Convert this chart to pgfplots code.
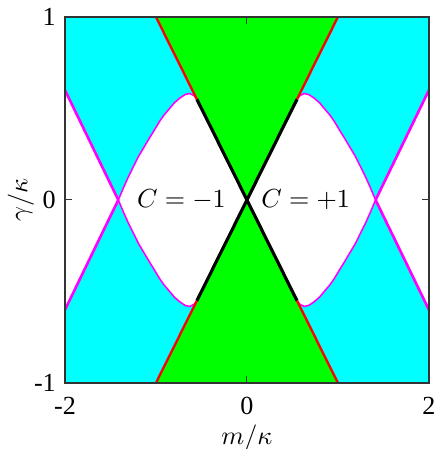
\documentclass[border=0pt]{standalone}
\usepackage{fontspec}
\setmainfont{Liberation Serif}
\usepackage{pgfplots}
\usepackage{pgfplotstable}
\pgfplotsset{compat=1.18}
\usetikzlibrary{calc}

\definecolor{cyanf}{RGB}{0,255,255}
\definecolor{greenf}{RGB}{0,255,0}
\definecolor{redl}{RGB}{255,0,0}
\definecolor{magl}{RGB}{255,0,255}

% upper-right lobe of the exceptional line (first row closes the fill at the origin)
\pgfplotstableread{
m      g
0      0
0.55   0.55
0.58   0.570
0.63   0.582
0.68   0.576
0.74   0.556
0.80   0.530
0.85   0.500
0.91   0.465
0.96   0.430
1.02   0.380
1.07   0.340
1.13   0.290
1.19   0.240
1.24   0.190
1.30   0.130
1.35   0.075
1.414  0
}\lobe

% outer branch beyond m = sqrt(2)
\pgfplotstableread{
m      g
1.414  0
1.60   0.19
1.80   0.395
2.00   0.60
}\outer

\begin{document}
\begin{tikzpicture}
\begin{axis}[
  name=ax,
  scale only axis,
  width=139.4pt, height=140.2pt,
  xmin=-2, xmax=2, ymin=-1, ymax=1,
  axis on top,
  xtick={-2,0,2}, xticklabels={-2,0,2},
  ytick={-1,0,1}, yticklabels={-1,0,1},
  tick align=inside,
  major tick length=2.5pt,
  tick style={black!80, line width=0.4pt},
  axis line style={black!80, line width=0.5pt},
  xticklabel style={yshift=-2pt},
  xlabel={$m/\kappa$}, ylabel={$\gamma/\kappa$},
  xlabel style={at={(axis description cs:0.5,-0.150)}, anchor=center},
  ylabel style={at={(axis description cs:-0.121,0.5)}, anchor=center},
]
% background phase
\addplot[fill=cyanf, draw=none] coordinates {(-2,-1) (2,-1) (2,1) (-2,1)} -- cycle;
% bowtie |m| < |gamma|
\addplot[fill=greenf, draw=none] coordinates {(0,0) (-1,1) (1,1)} -- cycle;
\addplot[fill=greenf, draw=none] coordinates {(0,0) (-1,-1) (1,-1)} -- cycle;
% white lobes (C = +1 / -1)
\addplot[fill=white, draw=none] table[x=m, y=g] {\lobe} -- cycle;
\addplot[fill=white, draw=none] table[x=m, y expr=-\thisrow{g}] {\lobe} -- cycle;
\addplot[fill=white, draw=none] table[x expr=-\thisrow{m}, y=g] {\lobe} -- cycle;
\addplot[fill=white, draw=none] table[x expr=-\thisrow{m}, y expr=-\thisrow{g}] {\lobe} -- cycle;
% white wedges outside
\addplot[fill=white, draw=none] coordinates {(1.414,0) (2,0.6) (2,-0.6)} -- cycle;
\addplot[fill=white, draw=none] coordinates {(-1.414,0) (-2,0.6) (-2,-0.6)} -- cycle;

% magenta exceptional lines
\pgfplotsset{lobeline/.style={magl, line width=0.6pt, skip coords between index={0}{1}}}
\addplot[lobeline] table[x=m, y=g] {\lobe};
\addplot[lobeline] table[x=m, y expr=-\thisrow{g}] {\lobe};
\addplot[lobeline] table[x expr=-\thisrow{m}, y=g] {\lobe};
\addplot[lobeline] table[x expr=-\thisrow{m}, y expr=-\thisrow{g}] {\lobe};
\addplot[magl, line width=1pt] table[x=m, y=g] {\outer};
\addplot[magl, line width=1pt] table[x=m, y expr=-\thisrow{g}] {\outer};
\addplot[magl, line width=1pt] table[x expr=-\thisrow{m}, y=g] {\outer};
\addplot[magl, line width=1pt] table[x expr=-\thisrow{m}, y expr=-\thisrow{g}] {\outer};

% red boundaries
\addplot[redl, line width=0.9pt] coordinates {(0.55,0.55) (1,1)};
\addplot[redl, line width=0.9pt] coordinates {(-0.55,0.55) (-1,1)};
\addplot[redl, line width=0.9pt] coordinates {(0.55,-0.55) (1,-1)};
\addplot[redl, line width=0.9pt] coordinates {(-0.55,-0.55) (-1,-1)};
% black boundaries
\addplot[black, line width=1.2pt] coordinates {(-0.55,-0.55) (0.55,0.55)};
\addplot[black, line width=1.2pt] coordinates {(-0.55,0.55) (0.55,-0.55)};

\node at (axis cs:-0.72,0) {$C=-1$};
\node at (axis cs:0.645,0) {$C=+1$};
\end{axis}
\pgfresetboundingbox
\path[use as bounding box] ($(ax.south west)+(-24.9pt,-25.3pt)$) rectangle ($(ax.north east)+(2.7pt,6.5pt)$);
\end{tikzpicture}
\end{document}
